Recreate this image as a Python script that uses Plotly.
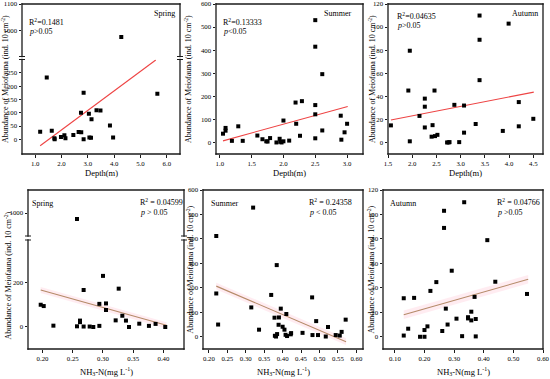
import plotly.graph_objects as go

W, H = 550, 379

# ---------------- data ----------------
# Depth panels (top row)
spring_depth = [1.19, 1.44, 1.63, 1.73, 1.74, 1.98, 2.11, 2.15, 2.45, 2.65, 2.75, 2.74, 2.84, 2.84,
                3.04, 3.06, 3.12, 3.14, 3.33, 3.48, 3.84, 3.96, 4.27, 5.64]
spring_depth_ab = [29, 232, 32, 4, 0, 9, 15, 4, 16, 28, 27, 100, 175, 0,
                   96, 7, 6, 76, 109, 108, 52, 7, 974, 171]
spring_depth_fit_x = [1.19, 5.58]
spring_depth_fit_y = [-24, 298]

summer_depth = [1.05, 1.09, 1.09, 1.19, 1.29, 1.36, 1.59, 1.67, 1.73, 1.75, 1.79, 1.89, 1.94, 1.95,
                1.97, 2.00, 2.00, 2.09, 2.19, 2.20, 2.26, 2.29, 2.50, 2.50, 2.50, 2.50, 2.50,
                2.61, 2.61, 2.90, 2.91, 2.96, 3.00]
summer_depth_ab = [38, 63, 51, 7, 70, 7, 30, 14, 5, 4, 19, 0, 16, 3,
                   0, 5, 95, 8, 173, 81, 29, 179, 530, 415, 162, 122, 18,
                   296, 52, 116, 12, 44, 81]
summer_depth_fit_x = [1.05, 3.01]
summer_depth_fit_y = [7, 156]

autumn_depth = [1.56, 1.92, 1.95, 1.95, 2.15, 2.26, 2.26, 2.26, 2.40, 2.42, 2.46, 2.47, 2.52, 2.72,
                2.75, 2.77, 2.87, 2.97, 3.07, 3.07, 3.31, 3.39, 3.39, 3.39, 3.87, 3.99, 4.20,
                4.20, 4.50]
autumn_depth_ab = [14.8, 45, 79.5, 1, 23, 38, 31, 13, 5, 15, 45, 5.5, 6.6, 0,
                   0, 0.3, 32.6, 0.3, 32, 8.5, 16, 110, 89, 54, 10, 103, 35,
                   14, 20.5]
autumn_depth_fit_x = [1.56, 4.51]
autumn_depth_fit_y = [19.5, 43.6]

# NH3-N panels (bottom row)
spring_nh = [0.197, 0.202, 0.218, 0.257, 0.262, 0.262, 0.268, 0.268, 0.278, 0.284, 0.294, 0.294,
             0.300, 0.305, 0.305, 0.321, 0.326, 0.332, 0.338, 0.343, 0.360, 0.376, 0.387, 0.403, 0.257]
spring_nh_ab = [101, 95, 6, 3, 29, 22, 168, 2, 2, 0, 5, 105,
                232, 107, 77, 30, 174, 51, 29, 0, 15, 5, 14, 0, 974]
spring_nh_fit_x = [0.197, 0.405]
spring_nh_fit_y = [168, 7.5]

summer_nh = [0.22, 0.22, 0.225, 0.315, 0.32, 0.336, 0.369, 0.378, 0.379, 0.382, 0.384, 0.385,
             0.389, 0.39, 0.395, 0.40, 0.405, 0.408, 0.41, 0.412, 0.422, 0.423, 0.454, 0.48,
             0.481, 0.491, 0.496, 0.517, 0.523, 0.544, 0.555, 0.56, 0.571]
summer_nh_ab = [412, 177, 50, 120, 528, 29, 171, 78, 4, 1, 293, 11,
                49, 79, 115, 41, 29, 8, 93, 3, 10, 15, 16, 161,
                7, 64, 7, 1, 40, 7, 5, 20, 70]
summer_nh_fit_x = [0.22, 0.572]
summer_nh_fit_y = [207, -20]

autumn_nh = [0.13, 0.13, 0.145, 0.165, 0.185, 0.20, 0.20, 0.21, 0.22, 0.24, 0.26, 0.266, 0.266,
             0.272, 0.278, 0.292, 0.308, 0.327, 0.334, 0.347, 0.347, 0.358, 0.358, 0.369,
             0.373, 0.373, 0.412, 0.439, 0.546]
autumn_nh_ab = [31.5, 1, 6.6, 31.8, 0, 5.5, 0, 8.5, 37.5, 44.7, 4.7, 103, 89,
                23, 10, 54, 14.8, 0.5, 110, 16, 15, 20.5, 13.4, 32.6,
                14.5, 0.3, 79, 45, 35]
autumn_nh_fit_x = [0.13, 0.55]
autumn_nh_fit_y = [18, 47]

band_half = [14, 14, 3.5]  # half-width of faint confidence band (bottom row)

r2_labels_top = ["R<sup>2</sup>=0.1481", "R<sup>2</sup>=0.13333", "R<sup>2</sup>=0.04635"]
p_labels_top = ["<i>p</i>>0.05", "<i>p</i><0.05", "<i>p</i>>0.05"]
r2_labels_bot = ["R<sup>2</sup> = 0.04599", "R<sup>2</sup> = 0.24358", "R<sup>2</sup> = 0.04766"]
p_labels_bot = ["<i>p</i> > 0.05", "<i>p</i> < 0.05", "<i>p</i> >0.05"]
seasons = ["Spring", "Summer", "Autumn"]
ytitle = "Abundance of Meiofauna (ind. 10 cm<sup>-2</sup>)"
xtitle_top = "Depth(m)"
xtitle_bot = "NH<sub>3</sub>-N(mg L<sup>-1</sup>)"

# ---------------- layout helpers ----------------
FONT = "Liberation Serif"
FRAME = "#1a1a1a"
LW = 1.3


def px(x):
    return x / W


def py(y):
    return 1 - y / H


def xdom(a, b):
    return [px(a), px(b)]


def ydom(top, bottom):
    return [py(bottom), py(top)]


def bar(xa, ya, xb, yb):
    """thin filled rectangle used as a frame edge (pixel coords)."""
    return dict(type="rect", xref="paper", yref="paper", x0=px(xa), y0=py(yb),
                x1=px(xb), y1=py(ya), fillcolor=FRAME, line=dict(width=0), layer="above")


def hline(xa, xb, y):
    return bar(xa - LW / 2, y - LW / 2, xb + LW / 2, y + LW / 2)


def vline(x, ya, yb):
    return bar(x - LW / 2, ya - LW / 2, x + LW / 2, yb + LW / 2)


def note(text, x, y, xanchor="center", size=8, angle=0):
    return dict(text=text, x=px(x), y=py(y), xref="paper", yref="paper", showarrow=False,
                xanchor=xanchor, yanchor="middle", textangle=angle,
                font=dict(family=FONT, size=size, color="black"))


fig = go.Figure()
layout = dict(template="none", width=W, height=H,
              margin=dict(l=0, r=0, t=0, b=0, pad=0, autoexpand=False),
              paper_bgcolor="white", plot_bgcolor="rgba(0,0,0,0)", showlegend=False,
              font=dict(family=FONT, size=8, color="black"))

axis_common = dict(showgrid=False, zeroline=False, ticks="outside",
                   ticklen=2.5, tickwidth=1, tickcolor=FRAME, automargin=False,
                   showline=False, ticklabeloverflow="allow",
                   tickfont=dict(family=FONT, size=6.8, color="black"), fixedrange=True)

shapes = []
annotations = []

panels = [
    dict(x=(22, 180), y=(4, 154), brk=(56.5, 59.5)),
    dict(x=(216, 363), y=(4, 154), brk=None),
    dict(x=(388, 543), y=(4, 154), brk=None),
    dict(x=(28, 184), y=(190, 349), brk=(236, 240)),
    dict(x=(203, 363), y=(190, 349), brk=None),
    dict(x=(383, 543), y=(190, 349), brk=None),
]

xcfg = [
    dict(range=[0.5, 6.5], tickvals=[1, 2, 3, 4, 5, 6], tickformat=".1f"),
    dict(range=[0.94, 3.25], tickvals=[1.0, 1.5, 2.0, 2.5, 3.0], tickformat=".1f"),
    dict(range=[1.5, 4.7], tickvals=[1.5, 2.0, 2.5, 3.0, 3.5, 4.0, 4.5], tickformat=".1f"),
    dict(range=[0.176, 0.434], tickvals=[0.20, 0.25, 0.30, 0.35, 0.40], tickformat=".2f"),
    dict(range=[0.184, 0.618], tickvals=[0.20, 0.25, 0.30, 0.35, 0.40, 0.45, 0.50, 0.55, 0.60],
         tickformat=".2f"),
    dict(range=[0.06, 0.60], tickvals=[0.10, 0.20, 0.30, 0.40, 0.50, 0.60], tickformat=".2f"),
]
ycfg = [
    dict(range=[-55, 300], tickvals=[0, 50, 100, 150, 200, 250],
         upper=dict(range=[900, 1100], tickvals=[1000, 1100])),
    dict(range=[-50, 600], tickvals=[0, 100, 200, 300, 400, 500, 600]),
    dict(range=[-10, 120], tickvals=[0, 20, 40, 60, 80, 100, 120]),
    dict(range=[-100, 395], tickvals=[0, 200],
         upper=dict(range=[900, 1100], tickvals=[1000])),
    dict(range=[-50, 600], tickvals=[0, 100, 200, 300, 400, 500, 600]),
    dict(range=[-10, 120], tickvals=[0, 20, 40, 60, 80, 100, 120]),
]

xs = [spring_depth, summer_depth, autumn_depth, spring_nh, summer_nh, autumn_nh]
ys = [spring_depth_ab, summer_depth_ab, autumn_depth_ab, spring_nh_ab, summer_nh_ab, autumn_nh_ab]
fxs = [spring_depth_fit_x, summer_depth_fit_x, autumn_depth_fit_x,
       spring_nh_fit_x, summer_nh_fit_x, autumn_nh_fit_x]
fys = [spring_depth_fit_y, summer_depth_fit_y, autumn_depth_fit_y,
       spring_nh_fit_y, summer_nh_fit_y, autumn_nh_fit_y]

yidx = 1
for i, p in enumerate(panels):
    xi = i + 1
    xname = "xaxis" if xi == 1 else f"xaxis{xi}"
    xref = "x" if xi == 1 else f"x{xi}"
    x0, x1 = p["x"]
    ytop, ybot = p["y"]
    brk = p["brk"]
    low_top = brk[1] if brk else ytop

    ly = yidx
    yidx += 1
    lyname = "yaxis" if ly == 1 else f"yaxis{ly}"
    lyref = "y" if ly == 1 else f"y{ly}"
    layout[lyname] = dict(axis_common, domain=ydom(low_top, ybot), anchor=xref,
                          range=ycfg[i]["range"], tickvals=ycfg[i]["tickvals"])
    layout[xname] = dict(axis_common, domain=xdom(x0, x1), anchor=lyref,
                         range=xcfg[i]["range"], tickvals=xcfg[i]["tickvals"],
                         tickformat=xcfg[i]["tickformat"])
    yrefs = [lyref]
    if brk:
        uy = yidx
        yidx += 1
        uyname = f"yaxis{uy}"
        uyref = f"y{uy}"
        layout[uyname] = dict(axis_common, domain=ydom(ytop, brk[0]), anchor=xref,
                              range=ycfg[i]["upper"]["range"],
                              tickvals=ycfg[i]["upper"]["tickvals"])
        yrefs.append(uyref)

    top_row = i < 3
    if not top_row:
        hw = band_half[i - 3]
        bx = [fxs[i][0], fxs[i][1], fxs[i][1], fxs[i][0], fxs[i][0]]
        by = [fys[i][0] + hw, fys[i][1] + hw, fys[i][1] - hw, fys[i][0] - hw, fys[i][0] + hw]
        fig.add_trace(go.Scatter(x=bx, y=by, mode="lines", fill="toself",
                                 fillcolor="rgba(255,200,215,0.35)", line=dict(width=0),
                                 xaxis=xref, yaxis=lyref, hoverinfo="skip"))
    fig.add_trace(go.Scatter(x=fxs[i], y=fys[i], mode="lines",
                             line=dict(color="#ee4444" if top_row else "#b58a68", width=1.1),
                             xaxis=xref, yaxis=lyref, hoverinfo="skip"))
    for yr in yrefs:
        fig.add_trace(go.Scatter(x=xs[i], y=ys[i], mode="markers",
                                 marker=dict(symbol="square", size=4, color="black",
                                             line=dict(width=0)),
                                 xaxis=xref, yaxis=yr, cliponaxis=True))

    # frame
    shapes.append(hline(x0, x1, ytop))
    shapes.append(hline(x0, x1, ybot))
    if brk:
        for ax in (x0, x1):
            shapes.append(vline(ax, ytop, brk[0]))
            shapes.append(vline(ax, brk[1], ybot))
            for yy in brk:
                shapes.append(bar(ax - 3, yy - 0.5, ax + 3, yy + 0.5))
    else:
        shapes.append(vline(x0, ytop, ybot))
        shapes.append(vline(x1, ytop, ybot))

    cx = (x0 + x1) / 2
    cy = (ytop + ybot) / 2
    if top_row:
        annotations.append(note(xtitle_top, cx, 173, size=8.5))
    else:
        annotations.append(note(xtitle_bot, cx, 371, size=8.5))
    ytx = [5, 188, 372, 7, 189, 370][i]
    yty = [cy, cy, cy, cy + 6, cy, cy][i]
    annotations.append(note(ytitle, ytx, yty, size=8, angle=-90))

top_r2_pos = [(27, 22, 32), (221, 22, 32), (395, 16, 26)]
for k in range(3):
    x, yr, yp = top_r2_pos[k]
    annotations.append(note(r2_labels_top[k], x, yr, xanchor="left"))
    annotations.append(note(p_labels_top[k], x, yp, xanchor="left"))
    sx = [177, 353, 540][k]
    annotations.append(note(seasons[k], sx, 13, xanchor="right"))

bot_r2_pos = [(138, 202, 212), (307, 202, 212), (495, 202, 212)]
for k in range(3):
    x, yr, yp = bot_r2_pos[k]
    annotations.append(note(r2_labels_bot[k], x, yr, xanchor="left"))
    annotations.append(note(p_labels_bot[k], x, yp, xanchor="left"))
    sx = [30, 209, 388][k]
    annotations.append(note(seasons[k], sx, 203, xanchor="left"))

layout["shapes"] = shapes
layout["annotations"] = annotations
fig.update_layout(**layout)
fig.write_html("out.html", config={"displayModeBar": False, "staticPlot": True},
               post_script="document.body.style.margin='0';document.body.style.padding='0';"
                           "document.body.style.overflow='hidden';")
